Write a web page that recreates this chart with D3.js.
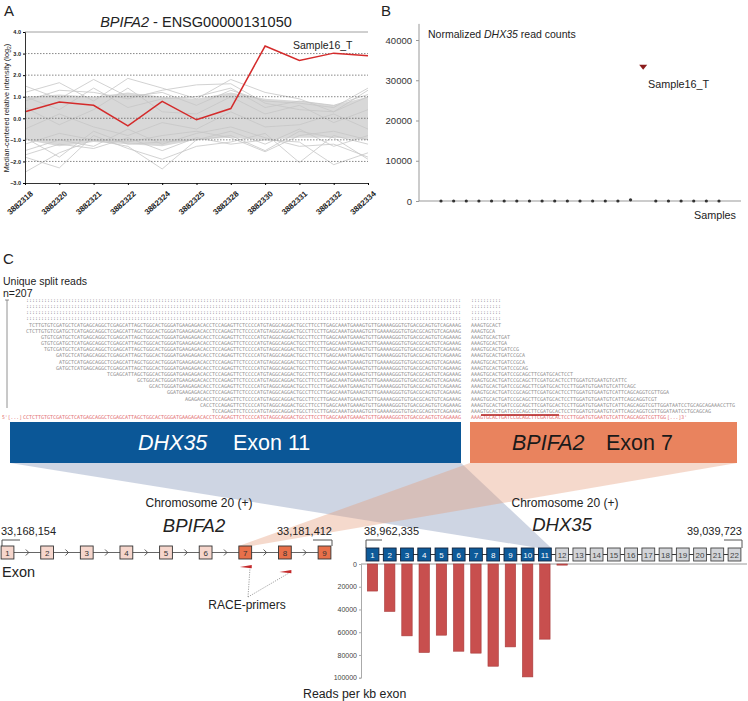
<!DOCTYPE html>
<html><head><meta charset="utf-8">
<script src="https://cdn.jsdelivr.net/npm/d3@7"></script>
<style>body{margin:0;background:#fff;} svg{display:block;font-family:"Liberation Sans",Arial,sans-serif;}</style>
</head><body><svg id="c" width="748" height="701"></svg>
<script>
// ---------- Panel A data ----------
const aSamples = ["3882318","3882320","3882321","3882322","3882324","3882325","3882328","3882330","3882331","3882332","3882334"];
const aYTicks = [-3,-2,-1,0,1,2,3,4];
const aGridTicks = [-2,-1,0,1,2,3];
const aSample16 = [0.3,0.75,0.6,-0.35,0.78,-0.07,0.45,3.35,2.68,3.02,2.9];
const aBandUpper = [1.0,1.1,1.0,1.2,1.0,0.9,1.2,0.9,0.8,0.6,1.0];
const aBandLower = [-1.0,-1.3,-1.1,-1.2,-1.3,-1.0,-0.9,-1.0,-0.9,-0.9,-1.0];
const aGreyLines = [
  [1.5,0.9,1.8,1.0,1.2,0.6,1.3,0.8,0.7,0.5,1.4],
  [-2.5,-1.6,-1.0,-1.3,-2.35,-1.0,-0.8,-1.5,-0.6,-0.9,-1.9],
  [-1.8,-2.3,-0.8,-1.4,-1.9,-1.3,-1.1,-0.7,-2.05,-0.8,-1.2],
  [1.2,1.65,0.8,1.85,1.4,0.9,1.8,1.2,0.9,0.3,1.3],
  [-1.7,-1.2,-1.4,-0.9,-1.5,-0.9,-1.2,-1.0,-1.1,-2.15,-1.6],
  [0.8,1.3,1.2,0.9,1.3,1.55,1.6,0.7,0.4,0.3,1.0],
  [-1.2,-0.7,-1.0,-1.1,-0.8,-0.6,-0.9,-1.55,-0.8,-0.6,-1.0],
  [0.5,-0.3,0.4,1.4,0.3,0.2,1.0,0.2,0.6,-0.2,0.4],
  [-0.5,0.2,-0.4,-0.8,-0.2,-0.5,0.3,-0.4,-0.3,0.2,-0.5],
  [-1.5,-1.0,-1.3,-0.5,-1.2,-0.7,-0.4,-0.9,-1.3,-1.2,-1.8],
  [1.0,0.4,1.4,0.5,0.9,1.0,1.4,0.5,0.8,0.6,1.1],
  [-0.9,-1.8,-0.6,-1.2,-1.1,-1.0,-0.6,-1.2,-0.5,-1.3,-0.8]
];
// ---------- Panel B data ----------
const bSamples = d3.range(1,24).map(String);
const bValues = [0,0,0,0,0,0,0,0,0,0,0,0,0,0,0,300,33200,0,0,0,0,0,0];
const bHighlight = "17";
const bYTicks = [0,10000,20000,30000,40000];
// ---------- Panel C data ----------
const leftSeq = "CCTCTTGTGTCGATGCTCATGAGCAGGCTCGAGCATTAGCTGGCACTGGGATGAAGAGACACCTCCAGAGTTCTCCCCATGTAGGCAGGACTGCCTTCCTTGAGCAAATGAAAGTGTTGAAAAGGGTGTGACGCAGTGTCAGAAAG";
const rightSeq = "AAAGTGCACTGATCCGCAGCTTCGATGCACTCCTTGGATGTGAATGTCATTCAGCAGGTCGTTGGATAATCCTGCAGCAGAAACCTTGAAAA";
const readLeftCounts = [145,145,145,145,144,145,140,140,139,135,134,135,118,108,104,98,92,87,83,146];
const readRightCounts = [10,10,10,10,10,8,13,12,16,18,18,19,34,52,55,66,62,88,80,65];
const readKinds = ["dots","dots","dots","dots","seq","seq","seq","seq","seq","seq","seq","seq","seq","seq","seq","seq","seq","seq","seq","ref"];
const bpifa2Exons = [1,2,3,4,5,6,7,8,9];
const bpifa2Fused = [7,8,9];
const dhx35Exons = d3.range(1,23);
const dhx35Fused = d3.range(1,12);
const dhx35Reads = [23800,41700,63200,77800,62600,76700,78400,89900,72900,99300,66100,1000,0,0,0,0,0,0,0,0,0,0];
const readTicks = [0,20000,40000,60000,80000,100000];

const svg = d3.select("#c");
function rich(g, x, y, parts, size, anchor, fill){
  const t = g.append("text").attr("x",x).attr("y",y).attr("font-size",size)
    .attr("text-anchor",anchor||"start").attr("fill",fill||"#222");
  parts.forEach(p=>t.append("tspan").text(p[0]).attr("font-style",p[1]?"italic":"normal"));
  return t;
}

// ================= Panel A =================
const gA = svg.append("g");
const xA = d3.scalePoint().domain(aSamples).range([25,368]);
const yA = d3.scaleLinear().domain([-3,4]).range([183,32]);
gA.append("text").attr("x",4).attr("y",16).attr("font-size",15).attr("fill","#222").text("A");
rich(gA,196,27,[["BPIFA2",true],[" - ENSG00000131050",false]],14.5,"middle");
const areaA = d3.area().x((d,i)=>xA(aSamples[i])).y0((d,i)=>yA(aBandLower[i])).y1(d=>yA(d));
gA.append("path").datum(aBandUpper).attr("d",areaA).attr("fill","#d8d8d8");
const lineA = d3.line().x((d,i)=>xA(aSamples[i])).y(d=>yA(d));
gA.selectAll("path.grey").data(aGreyLines).join("path").attr("class","grey")
  .attr("d",lineA).attr("fill","none").attr("stroke","#c6c6c6").attr("stroke-width",0.8);
gA.selectAll("line.grid").data(aGridTicks).join("line").attr("class","grid")
  .attr("x1",25).attr("x2",368).attr("y1",d=>yA(d)).attr("y2",d=>yA(d))
  .attr("stroke","#555").attr("stroke-width",0.7).attr("stroke-dasharray","1.5,1.5");
gA.append("line").attr("x1",25).attr("x2",368).attr("y1",yA(4)).attr("y2",yA(4)).attr("stroke","#888").attr("stroke-width",0.8);
gA.append("path").datum(aSample16).attr("d",lineA).attr("fill","none").attr("stroke","#d42b2b").attr("stroke-width",1.5);
gA.append("text").attr("x",293).attr("y",49).attr("font-size",10.5).attr("fill","#222").text("Sample16_T");
const axLA = gA.append("g").attr("transform","translate(25,0)").call(d3.axisLeft(yA).tickValues(aYTicks).tickSize(2).tickPadding(2));
axLA.selectAll("text").attr("font-size",5.5).attr("font-weight","bold").attr("fill","#222").attr("font-family","Liberation Sans, Arial");
axLA.select(".domain").attr("stroke","#333");
const axBA = gA.append("g").attr("transform","translate(0,183)").call(d3.axisBottom(xA).tickSize(2));
axBA.select(".domain").attr("stroke","#333");
axBA.selectAll("text").attr("font-size",8).attr("font-weight","bold").attr("fill","#222")
  .attr("font-family","Liberation Sans, Arial")
  .attr("text-anchor","end").attr("transform","translate(3,6) rotate(-42)").attr("dy","0.3em");
const yl = gA.append("text").attr("transform","translate(9,108) rotate(-90)").attr("text-anchor","middle")
  .attr("font-size",7.3).attr("fill","#222");
yl.append("tspan").text("Median-centered relative intensity (log");
yl.append("tspan").text("2").attr("font-size",5).attr("dy",2);
yl.append("tspan").text(")").attr("dy",-2);

// ================= Panel B =================
const gB = svg.append("g");
const xB = d3.scalePoint().domain(bSamples).range([441,719]);
const yB = d3.scaleLinear().domain([0,40000]).range([201,40]);
gB.append("text").attr("x",381).attr("y",16).attr("font-size",15).attr("fill","#222").text("B");
const axLB = gB.append("g").attr("transform","translate(419,0)").call(d3.axisLeft(yB).tickValues(bYTicks).tickSize(3).tickPadding(4).tickFormat(d3.format("d")));
axLB.select(".domain").remove();
axLB.selectAll("line").attr("stroke","#999");
axLB.selectAll("text").attr("font-size",9.5).attr("fill","#333").attr("font-family","Liberation Sans, Arial");
gB.append("line").attr("x1",419).attr("x2",419).attr("y1",yB(44000)).attr("y2",yB(0)).attr("stroke","#999");
gB.append("line").attr("x1",419).attr("x2",741).attr("y1",yB(0)).attr("y2",yB(0)).attr("stroke","#999");
rich(gB,428,38,[["Normalized ",false],["DHX35",true],[" read counts",false]],10.5,"start");
const bData = bSamples.map((s,i)=>({s,v:bValues[i]}));
gB.selectAll("circle").data(bData.filter(d=>d.s!==bHighlight)).join("circle")
  .attr("cx",d=>xB(d.s)).attr("cy",d=>yB(d.v)).attr("r",1.6).attr("fill","#333");
bData.filter(d=>d.s===bHighlight).forEach(d=>{
  const x=xB(d.s), y=yB(d.v);
  gB.append("path").attr("d",`M${x-4},${y-2.5}L${x+4},${y-2.5}L${x},${y+2.5}Z`).attr("fill","#8c1c1c");
});
gB.append("text").attr("x",648).attr("y",88).attr("font-size",10.8).attr("fill","#222").text("Sample16_T");
gB.append("text").attr("x",736).attr("y",219).attr("text-anchor","end").attr("font-size",10.8).attr("fill","#222").text("Samples");

// ================= Panel C: reads =================
const gC = svg.append("g");
gC.append("text").attr("x",3).attr("y",264).attr("font-size",15).attr("fill","#222").text("C");
gC.append("text").attr("x",3).attr("y",285).attr("font-size",10.5).attr("fill","#222").text("Unique split reads");
gC.append("text").attr("x",3).attr("y",297).attr("font-size",10.5).attr("fill","#222").text("n=207");
gC.append("line").attr("x1",7).attr("x2",7).attr("y1",300).attr("y2",408).attr("stroke","#777").attr("stroke-width",0.8);
gC.append("line").attr("x1",5).attr("x2",9).attr("y1",300).attr("y2",300).attr("stroke","#777").attr("stroke-width",0.8);
const cw = 3.0, junL = 461, junR = 471;
const yRow = d3.scaleLinear().domain([0,19]).range([302,419]);
readKinds.forEach((k,i)=>{
  const lc = readLeftCounts[i], rc = readRightCounts[i];
  const col = k==="ref" ? "#e26a6a" : (k==="dots" ? "#666" : "#8c8c8c");
  const lt = k==="dots" ? ":".repeat(lc) : leftSeq.slice(leftSeq.length-lc);
  const rt = k==="dots" ? ":".repeat(rc) : rightSeq.slice(0,rc);
  const y = yRow(i);
  const common = t=>t.attr("y",y).attr("font-size",5).attr("font-family","DejaVu Sans Mono, monospace")
    .attr("fill",col).attr("lengthAdjust","spacingAndGlyphs");
  common(gC.append("text")).attr("x",junL-lc*cw).attr("textLength",lc*cw).text(lt);
  common(gC.append("text")).attr("x",junR).attr("textLength",rc*cw).text(rt);
  if(k==="ref"){
    common(gC.append("text")).attr("x",junL-lc*cw-21).attr("textLength",20).text("5'[...]");
    common(gC.append("text")).attr("x",junR+rc*cw+1).attr("textLength",20).text("[...]3'");
  }
});
gC.append("line").attr("x1",481).attr("x2",559).attr("y1",415).attr("y2",415).attr("stroke","#b01818").attr("stroke-width",1.6);

// ================= Panel C: gene diagrams =================
const xE1 = d3.scaleLinear().domain([1,9]).range([7.5,324.5]);
const xE2 = d3.scaleLinear().domain([1,22]).range([372.5,734.5]);
const ew = 12.8, eh = 13, yE1 = 546, yE2 = 548;
const gW = svg.append("g");
gW.append("path").attr("d",`M10,463L461,463L${xE2(11)+ew/2},${yE2}L${xE2(11)-ew/2},${yE2}Z`)
  .attr("fill","#8595b9").attr("opacity",0.4);
gW.append("path").attr("d",`M470,463L737,463L${xE1(7)+ew/2},${yE1}L${xE1(7)-ew/2},${yE1}Z`)
  .attr("fill","#e59a78").attr("opacity",0.38);
gW.append("rect").attr("x",10).attr("y",422).attr("width",451).attr("height",41).attr("fill","#0b5797");
gW.append("rect").attr("x",470).attr("y",422).attr("width",267).attr("height",41).attr("fill","#e9835e");
rich(gW,138,450,[["DHX35",true]],21.5,"start","#fff");
rich(gW,233,450,[["Exon 11",false]],21.5,"start","#fff");
rich(gW,512,450,[["BPIFA2",true]],21.5,"start","#1a1a1a");
rich(gW,606,450,[["Exon 7",false]],21.5,"start","#1a1a1a");

// BPIFA2 gene
const gG = svg.append("g");
gG.append("text").attr("x",199).attr("y",507).attr("text-anchor","middle").attr("font-size",12).attr("fill","#222").text("Chromosome 20 (+)");
rich(gG,194,532,[["BPIFA2",true]],18.5,"middle");
gG.append("text").attr("x",1).attr("y",535).attr("font-size",11).attr("fill","#222").text("33,168,154");
gG.append("text").attr("x",332).attr("y",535).attr("text-anchor","end").attr("font-size",11).attr("fill","#222").text("33,181,412");
gG.append("path").attr("d",`M2,${yE1}V540H20`).attr("fill","none").attr("stroke","#555");
gG.append("path").attr("d",`M313,540H332V${yE1}`).attr("fill","none").attr("stroke","#555");
gG.append("line").attr("x1",xE1(1)).attr("x2",xE1(9)).attr("y1",yE1+eh/2).attr("y2",yE1+eh/2).attr("stroke","#666").attr("stroke-width",1);
bpifa2Exons.slice(0,-1).forEach(e=>{
  const m=(xE1(e)+xE1(e+1))/2, y=yE1+eh/2;
  gG.append("path").attr("d",`M${m-1.5},${y-3}L${m+1.5},${y}L${m-1.5},${y+3}`).attr("fill","none").attr("stroke","#444").attr("stroke-width",0.9);
});
gG.selectAll("rect.e1").data(bpifa2Exons).join("rect").attr("class","e1")
  .attr("x",d=>xE1(d)-ew/2).attr("y",yE1).attr("width",ew).attr("height",eh)
  .attr("fill",d=>bpifa2Fused.includes(d)?"#e8704a":"#f6d6cc").attr("stroke","#333").attr("stroke-width",0.9);
gG.selectAll("text.e1").data(bpifa2Exons).join("text").attr("class","e1")
  .attr("x",d=>xE1(d)).attr("y",yE1+eh/2+3).attr("text-anchor","middle").attr("font-size",8).attr("fill","#333").text(d=>d);
gG.append("text").attr("x",2).attr("y",577).attr("font-size",14.5).attr("fill","#222").text("Exon");
[[7,567],[8,572]].forEach(([e,y])=>{
  const x0=xE1(e)-5.5, x1=xE1(e)+6.5;
  gG.append("path").attr("d",`M${x0},${y}L${x1},${y-2}L${x1},${y+1.2}Z`).attr("fill","#c4282a");
});
gG.append("path").attr("d",`M248,597L250,568M248,597L289,573`).attr("fill","none").attr("stroke","#777").attr("stroke-width",0.7).attr("stroke-dasharray","1.2,1.2");
gG.append("text").attr("x",247).attr("y",609).attr("text-anchor","middle").attr("font-size",12).attr("fill","#222").text("RACE-primers");

// DHX35 gene
const gD = svg.append("g");
gD.append("text").attr("x",565).attr("y",507).attr("text-anchor","middle").attr("font-size",12).attr("fill","#222").text("Chromosome 20 (+)");
rich(gD,562,531,[["DHX35",true]],18.5,"middle");
gD.append("text").attr("x",364).attr("y",535).attr("font-size",11).attr("fill","#222").text("38,962,335");
gD.append("text").attr("x",742).attr("y",535).attr("text-anchor","end").attr("font-size",11).attr("fill","#222").text("39,039,723");
gD.append("path").attr("d",`M366,${yE2}V540H382`).attr("fill","none").attr("stroke","#555");
gD.append("path").attr("d",`M724,540H742V${yE2}`).attr("fill","none").attr("stroke","#555");
gD.append("line").attr("x1",xE2(1)).attr("x2",xE2(22)).attr("y1",yE2+eh/2).attr("y2",yE2+eh/2).attr("stroke","#333");
gD.selectAll("rect.e2").data(dhx35Exons).join("rect").attr("class","e2")
  .attr("x",d=>xE2(d)-ew/2).attr("y",yE2).attr("width",ew).attr("height",eh)
  .attr("fill",d=>dhx35Fused.includes(d)?"#0d5a99":"#d2d4d8").attr("stroke",d=>dhx35Fused.includes(d)?"#14243c":"#444").attr("stroke-width",0.9);
gD.selectAll("text.e2").data(dhx35Exons).join("text").attr("class","e2")
  .attr("x",d=>xE2(d)).attr("y",yE2+eh/2+3).attr("text-anchor","middle").attr("font-size",8)
  .attr("fill",d=>dhx35Fused.includes(d)?"#fff":"#444").text(d=>d);
const yR = d3.scaleLinear().domain([0,100000]).range([564,677.7]);
gD.append("line").attr("x1",361).attr("x2",747).attr("y1",yR(0)).attr("y2",yR(0)).attr("stroke","#bbb").attr("stroke-width",1.5);
const barData = dhx35Exons.map((e,i)=>({e,v:dhx35Reads[i]})).filter(d=>d.v>0);
gD.selectAll("rect.bar").data(barData).join("rect").attr("class","bar")
  .attr("x",d=>xE2(d.e)-5.2).attr("width",10.4).attr("y",yR(0)).attr("height",d=>yR(d.v)-yR(0))
  .attr("fill","#c84f4e").attr("stroke","#a83a3a").attr("stroke-width",0.6);
const axR = gD.append("g").attr("transform","translate(361,0)").call(d3.axisLeft(yR).tickValues(readTicks).tickSize(2).tickPadding(2).tickFormat(d3.format("d")));
axR.select(".domain").attr("stroke","#aaa");
axR.selectAll("line").attr("stroke","#aaa");
axR.selectAll("text").attr("font-size",7).attr("fill","#444").attr("font-family","Liberation Sans, Arial");
gD.append("text").attr("x",303).attr("y",698).attr("font-size",12.3).attr("fill","#222").text("Reads per kb exon");
</script></body></html>
